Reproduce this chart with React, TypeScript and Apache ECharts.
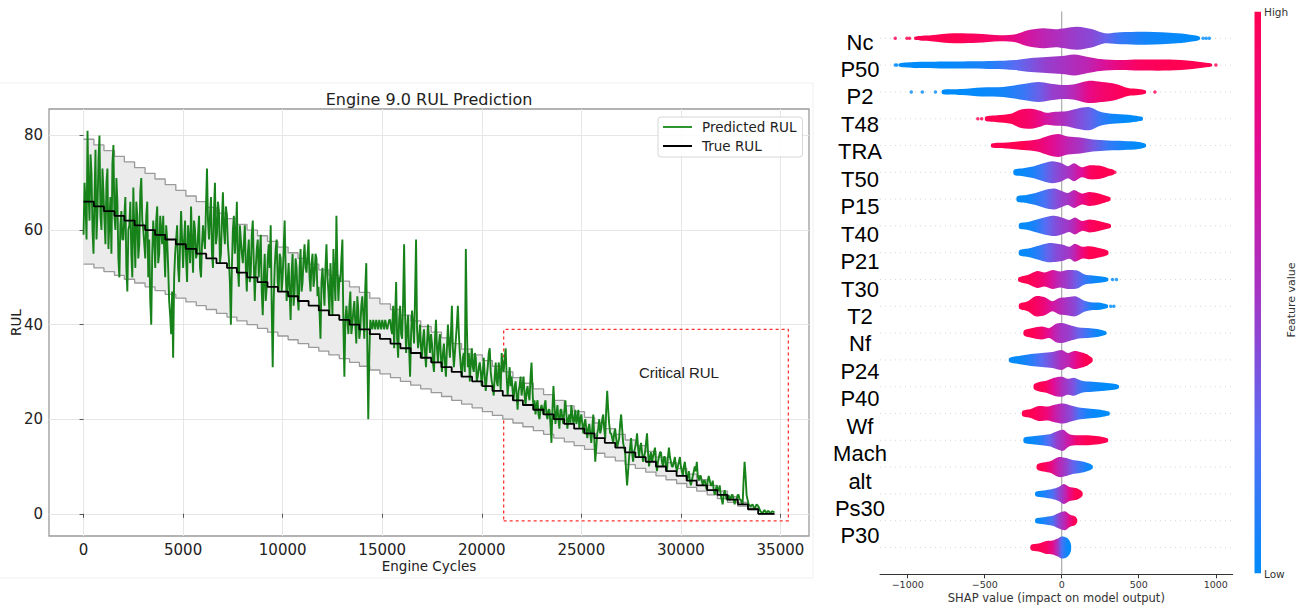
import React, { useEffect, useRef } from "react";
import * as echarts from "echarts";

// ---------------- Left panel: RUL prediction ----------------
const X_TICKS = [0, 5000, 10000, 15000, 20000, 25000, 30000, 35000];
const Y_TICKS = [0, 20, 40, 60, 80];
const LAST_CYCLE = 34700;
const BAND_FRACTION = 0.2;
const PRED_SAMPLE_STEP = 100;

const STEP_STARTS = [
  0, 520, 1025, 1555, 2050, 2565, 3090, 3590, 4100, 4635, 5140, 5660, 6160, 6675, 7205, 7700, 8210,
  8735, 9240, 9760, 10275, 10775, 11305, 11815, 12320, 12845, 13360, 13855, 14375, 14885, 15415,
  15915, 16430, 16935, 17460, 17980, 18490, 18985, 19515, 20030, 20535, 21055, 21565, 22065, 22590,
  23105, 23615, 24145, 24640, 25160, 25665, 26180, 26705, 27205, 27715, 28235, 28750, 29255, 29785,
  30295, 30795, 31320, 31835, 32340, 32860, 33370, 33885,
];
const TRUE_RUL_LEVELS = [
  66, 65, 64, 63, 62, 61, 60, 59, 58, 57, 56, 55, 54, 53, 52, 51, 50, 49, 48, 47, 46, 45, 44, 43, 42,
  41, 40, 39, 38, 37, 36, 35, 34, 33, 32, 31, 30, 29, 28, 27, 26, 25, 24, 23, 22, 21, 20, 19, 18, 17,
  16, 15, 14, 13, 12, 11, 10, 9, 8, 7, 6, 5, 4, 3, 2, 1, 0,
];

// predicted RUL sampled at cycles 0, 100, 200, ...
const PREDICTED_RUL = [
  59, 66, 81, 62, 72, 55, 77, 64, 80, 60,
  68, 57, 73, 62, 55, 78, 60, 66, 50, 64,
  58, 67, 47, 61, 55, 69, 52, 63, 57, 71,
  60, 54, 66, 58, 40, 62, 52, 65, 55, 60,
  63, 50, 58, 45, 38, 33, 55, 61, 49, 64,
  52, 62, 49, 58, 65, 51, 60, 55, 63, 50,
  61, 56, 73, 58, 67, 52, 70, 59, 64, 55,
  68, 57, 63, 54, 40, 60, 55, 66, 48, 58,
  53, 61, 47, 58, 51, 62, 45, 56, 50, 59,
  42, 55, 48, 57, 61, 31, 52, 58, 47, 54,
  50, 62, 45, 53, 41, 55, 47, 52, 43, 56,
  49, 57, 51, 58, 47, 55, 50, 54, 48, 37,
  52, 44, 57, 47, 53, 42, 50, 63, 45, 49,
  58, 29, 44, 38, 47, 40, 45, 36, 43, 39,
  46, 37, 53, 20, 41, 39, 40, 41, 39, 40,
  41, 39, 40, 40, 41, 38, 35, 49, 33, 44,
  37, 57, 34, 42, 29, 43, 36, 58, 35, 40,
  33, 39, 31, 40, 34, 36, 30, 41, 32, 38,
  30, 36, 29, 40, 33, 44, 31, 37, 44, 34,
  29, 34, 56, 31, 28, 35, 30, 33, 29, 32,
  27, 33, 26, 31, 35, 28, 25, 32, 27, 30,
  34, 30, 35, 25, 31, 29, 24, 28, 22, 27,
  25, 29, 23, 27, 24, 32, 22, 21, 24, 20,
  23, 21, 24, 20, 22, 15, 27, 19, 23, 18,
  22, 19, 24, 18, 21, 23, 19, 22, 20, 18,
  21, 17, 20, 16, 19, 15, 21, 11, 17, 20,
  18, 21, 16, 26, 19, 17, 15, 18, 14, 16,
  21, 15, 13, 6, 12, 16, 11, 14, 17, 12,
  15, 11, 13, 17, 10, 13, 12, 14, 9, 12,
  13, 10, 12, 9, 14, 11, 10, 12, 9, 11,
  10, 8, 11, 7, 9, 6, 8, 10, 11, 7,
  8, 6, 7, 5, 8, 6, 7, 4, 6, 5,
  4, 2, 5, 3, 4, 3, 4, 2, 3, 4,
  3, 2, 11, 4, 2, 1.5, 2, 1, 2, 1.5,
  0.5, 0, 0.8, 0.2, 0.6, 0.1, 0.5, 0.3,
];
// predicted RUL sampled at cycles 50, 150, 250, ...
const PREDICTED_RUL_MID = [
  70, 58, 68, 76, 60, 67, 58, 75, 63, 73,
  62, 70, 56, 67, 74, 63, 71, 54, 61, 58,
  63, 52, 60, 66, 50, 60, 66, 54, 68, 62,
  57, 63, 50, 45, 55, 58, 62, 53, 63, 57,
  56, 61, 52, 42, 47, 50, 58, 52, 57, 58,
  58, 54, 61, 53, 57, 62, 54, 59, 52, 57,
  58, 65, 62, 63, 55, 64, 57, 66, 53, 62,
  60, 65, 57, 49, 52, 63, 59, 52, 61, 55,
  57, 52, 55, 49, 59, 53, 52, 58, 55, 47,
  50, 45, 54, 52, 44, 45, 56, 49, 55, 47,
  56, 52, 49, 47, 51, 44, 54, 46, 52, 47,
  54, 52, 55, 50, 53, 48, 55, 46, 43, 49,
  48, 52, 50, 42, 48, 56, 45, 52, 50, 54,
  40, 41, 41, 44, 38, 43, 40, 46, 37, 44,
  42, 48, 36, 33, 40, 41, 39, 40, 41, 39,
  40, 41, 39, 41, 39, 44, 42, 37, 41, 38,
  45, 42, 39, 35, 38, 40, 46, 39, 37, 35,
  37, 34, 36, 37, 38, 32, 37, 35, 36, 33,
  34, 32, 35, 36, 38, 35, 34, 40, 38, 31,
  33, 30, 40, 34, 32, 31, 34, 28, 31, 30,
  30, 29, 29, 34, 30, 27, 29, 28, 32, 26,
  31, 33, 29, 28, 27, 26, 27, 25, 26, 29,
  27, 25, 26, 25, 29, 26, 24, 23, 21, 22,
  22, 23, 21, 22, 19, 22, 23, 21, 20, 22,
  20, 22, 21, 20, 19, 21, 20, 19, 22, 20,
  19, 19, 18, 18, 17, 18, 16, 14, 18, 17,
  20, 18, 22, 22, 17, 16, 17, 16, 15, 19,
  18, 14, 9, 9, 14, 13, 13, 15, 14, 14,
  13, 12, 15, 13, 12, 11, 13, 11, 11, 13,
  11, 12, 10, 12, 12, 10, 11, 10, 10, 12,
  9, 10, 9, 8, 7, 7, 9, 9, 8, 8,
  7, 7, 6, 7, 7, 6, 5, 5, 5, 6,
  3, 4, 4, 3, 3, 4, 3, 3, 4, 3,
  2.5, 7, 8, 3, 1.8, 1.8, 1.5, 1.5, 1.8, 1,
  0.3, 0.5, 0.4, 0.5, 0.3, 0.4, 0.4,
];

const CRITICAL_X = [21100, 35400];
const CRITICAL_Y = [-1.5, 39];
const CRITICAL_LABEL_AT = [29900, 29.9];

// ---------------- Right panel: SHAP summary ----------------
const FEATURE_LABELS = [
  "Nc", "P50", "P2", "T48", "TRA", "T50", "P15", "T40", "P21", "T30",
  "T2", "Nf", "P24", "P40", "Wf", "Mach", "alt", "Ps30", "P30",
];
const SHAP_TICKS = [-1000, -500, 0, 500, 1000];

// each row: [SHAP value, local density, feature value (0 low .. 1 high)]
const SWARM_01 = [[-955,1.5,1],[-850,3,1],[-700,5,1],[-550,4.5,0.95],[-400,3,0.9],[-300,4,0.8],[-220,8,0.7],[-120,10,0.6],[-40,9,0.55],[20,10,0.5],[100,11.5,0.45],[200,9,0.4],[280,5,0.3],[380,6,0.15],[550,6.5,0.05],[750,5,0.02],[860,3,0],[895,1.5,0]];
const SWARM_02 = [[-1055,1.5,0],[-950,3,0],[-700,3.5,0.02],[-450,4,0.1],[-300,5,0.25],[-200,7,0.35],[-100,8,0.45],[0,9,0.5],[80,10.5,0.55],[170,8,0.6],[250,6,0.7],[380,5,0.85],[500,5.5,0.95],[700,5.5,1],[850,4,1],[950,2,1],[975,1.2,1]];
const SWARM_03 = [[-775,2,0],[-650,3,0],[-520,4.5,0.02],[-380,5,0.05],[-250,8,0.15],[-150,10,0.3],[-60,8,0.45],[20,7,0.5],[90,8,0.6],[170,11,0.8],[260,10,0.9],[350,8,0.95],[430,4,1],[500,3,1],[545,1.5,1]];
const SWARM_04 = [[-495,2,1],[-420,3.5,1],[-330,5,1],[-270,9,0.95],[-200,10,0.9],[-140,8,0.8],[-100,6,0.7],[-40,7,0.6],[30,7.5,0.5],[100,10,0.4],[180,11.5,0.3],[250,7,0.15],[330,5,0.05],[430,4,0],[500,2.5,0],[525,1.5,0]];
const SWARM_05 = [[-455,2,1],[-350,3,1],[-250,4.5,1],[-160,6,0.9],[-80,10,0.8],[-20,11.5,0.7],[40,9,0.6],[120,8,0.5],[200,6,0.35],[300,5,0.15],[400,4.5,0.05],[500,3.5,0],[545,1.5,0]];
const SWARM_06 = [[-310,2.5,0],[-250,4,0.02],[-180,6,0.08],[-120,9,0.2],[-60,11,0.35],[0,9,0.45],[40,6,0.5],[80,9,0.6],[130,5,0.75],[180,7,0.95],[250,6.5,1],[300,4,1],[340,2,1]];
const SWARM_07 = [[-290,2.5,0],[-230,4,0.02],[-170,6,0.1],[-110,9,0.2],[-50,10.5,0.35],[0,8,0.45],[40,6,0.5],[80,9,0.6],[130,5.5,0.8],[180,7,0.95],[240,5.5,1],[290,3,1],[315,1.5,1]];
const SWARM_08 = [[-275,2.5,0],[-220,4,0.02],[-160,6.5,0.1],[-100,9,0.25],[-40,10,0.38],[10,8,0.45],[50,6,0.5],[85,8.5,0.6],[130,5,0.8],[180,6.5,0.95],[240,5,1],[290,3,1],[318,1.5,1]];
const SWARM_09 = [[-275,2.5,0],[-210,4.5,0.03],[-150,7,0.12],[-90,9.5,0.28],[-30,9,0.4],[10,8,0.45],[50,6,0.5],[85,9,0.62],[130,6,0.85],[180,6.5,1],[250,4.5,1],[300,2,1]];
const SWARM_10 = [[-280,2,1],[-220,4.5,1],[-160,8.5,0.95],[-110,7,0.85],[-60,9.5,0.7],[-10,8,0.55],[40,9.5,0.45],[100,9,0.3],[150,5,0.15],[200,4,0.05],[260,3,0],[300,1.5,0]];
const SWARM_11 = [[-275,2.5,1],[-220,5,1],[-170,10,0.95],[-110,9,0.85],[-60,5,0.7],[-20,8,0.6],[30,9,0.5],[90,10,0.4],[140,6,0.25],[190,4,0.08],[250,3.5,0],[290,2,0],[300,1.2,0]];
const SWARM_12 = [[-245,2.5,1],[-190,5,1],[-130,6.5,0.9],[-80,5,0.75],[-40,9,0.6],[0,10,0.5],[50,8,0.45],[110,5.5,0.3],[170,5,0.15],[230,4,0.03],[270,2.5,0],[290,1.2,0]];
const SWARM_13 = [[-340,2,0],[-280,4,0.02],[-200,6,0.1],[-130,7,0.25],[-60,8,0.4],[0,10,0.55],[40,7,0.6],[80,9,0.75],[120,8,0.9],[160,6,1],[190,3,1],[200,1.5,1]];
const SWARM_14 = [[-180,2.5,1],[-140,5,1],[-100,6,0.95],[-50,9,0.75],[0,10,0.55],[40,8,0.45],[80,9,0.35],[130,6,0.15],[200,5,0.05],[280,4,0],[340,3,0],[370,1.5,0]];
const SWARM_15 = [[-255,2.5,1],[-200,4.5,1],[-150,7.5,0.95],[-90,7,0.85],[-40,9,0.65],[10,10,0.5],[60,8,0.4],[110,6,0.2],[170,5,0.05],[240,4,0],[290,2.5,0],[310,1.5,0]];
const SWARM_16 = [[-245,2.5,0],[-190,4,0.02],[-130,5,0.1],[-80,6,0.25],[-30,9,0.45],[10,10.5,0.55],[50,6,0.7],[100,5,0.9],[170,5,1],[240,4,1],[285,2.5,1],[300,1.5,1]];
const SWARM_17 = [[-160,2.5,1],[-120,4.5,1],[-70,6,0.85],[-20,10,0.6],[30,9,0.45],[70,7,0.3],[120,6,0.15],[170,4,0.03],[200,1.5,0]];
const SWARM_18 = [[-170,2,0],[-120,3.5,0.05],[-60,5,0.2],[-20,7,0.4],[15,10,0.55],[50,7,0.8],[90,6,1],[120,4,1],[135,1.5,1]];
const SWARM_19 = [[-170,2,0],[-120,3.5,0.05],[-60,5,0.2],[-15,8,0.45],[20,9.5,0.6],[55,6,0.85],[85,4.5,1],[100,1.5,1]];
const SWARM_20 = [[-200,2.5,1],[-150,4,1],[-100,6.5,0.95],[-60,7,0.8],[-25,9,0.5],[0,11,0.2],[30,10,0.05],[50,7,0],[60,3,0]];

// isolated outlying points: [SHAP value, row, feature value]
const SWARM_DOTS = [
  [-1081, 0, 1], [-1005, 0, 1], [-988, 0, 1], [918, 0, 0], [938, 0, 0], [958, 0, 0],
  [-1081, 1, 0], [-1070, 1, 0], [1001, 1, 1],
  [-977, 2, 0], [-905, 2, 0], [-820, 2, 0], [605, 2, 1],
  [-545, 3, 1], [-520, 3, 1],
  [345, 5, 1],
  [330, 9, 0], [355, 9, 0],
  [318, 10, 0], [338, 10, 0],
];

const COLOR_STOP_POS = [0, 0.25, 0.5, 0.75, 1];
const COLOR_STOP_RGB = [
  [0, 139, 251],
  [90, 108, 243],
  [165, 52, 196],
  [224, 12, 150],
  [255, 0, 82],
];

const SWARM_ROWS = [
  SWARM_01, SWARM_02, SWARM_03, SWARM_04, SWARM_05, SWARM_06, SWARM_07, SWARM_08, SWARM_09, SWARM_10,
  SWARM_11, SWARM_12, SWARM_13, SWARM_14, SWARM_15, SWARM_16, SWARM_17, SWARM_18, SWARM_19, SWARM_20,
];

function fvColor(t: number): string {
  const v = Math.max(0, Math.min(1, t));
  let i = 0;
  while (i < COLOR_STOP_POS.length - 2 && v > COLOR_STOP_POS[i + 1]) i++;
  const a = COLOR_STOP_POS[i];
  const b = COLOR_STOP_POS[i + 1];
  const f = (v - a) / (b - a);
  const c0 = COLOR_STOP_RGB[i];
  const c1 = COLOR_STOP_RGB[i + 1];
  const r = Math.round(c0[0] + (c1[0] - c0[0]) * f);
  const g = Math.round(c0[1] + (c1[1] - c0[1]) * f);
  const bb = Math.round(c0[2] + (c1[2] - c0[2]) * f);
  return `rgb(${r},${g},${bb})`;
}

const FONT = "DejaVu Sans";
const ARIAL = "Liberation Sans";
const DENSITY_TO_ROW = 1 / 26.8;

function buildOption(): any {
  const trueData = STEP_STARTS.map((x, i) => [x, TRUE_RUL_LEVELS[i]]).concat([[LAST_CYCLE, 0]]);
  const upperData = trueData.map(([x, v]) => [x, v * (1 + BAND_FRACTION)]);
  const lowerData = trueData.map(([x, v]) => [x, v * (1 - BAND_FRACTION)]);
  const predData: number[][] = [];
  PREDICTED_RUL.forEach((v, i) => {
    predData.push([i * PRED_SAMPLE_STEP, v]);
    if (i < PREDICTED_RUL_MID.length) predData.push([i * PRED_SAMPLE_STEP + PRED_SAMPLE_STEP / 2, PREDICTED_RUL_MID[i]]);
  });

  const colorbarStops = COLOR_STOP_POS.map((p) => ({ offset: 1 - p, color: fvColor(p) })).reverse();

  return {
    animation: false,
    backgroundColor: "#ffffff",
    textStyle: { fontFamily: FONT },
    grid: [
      { left: 49, top: 109, right: 493, bottom: 73, show: true, borderColor: "#9a9a9a", borderWidth: 1.3, containLabel: false, outerBoundsMode: "none" },
      { left: 880, top: 11.5, right: 69.3, bottom: 34.7, containLabel: false, outerBoundsMode: "none" },
      { left: 880, top: 28.3, width: 10, height: 521.4, containLabel: false, outerBoundsMode: "none" },
    ],
    legend: {
      data: [
        { name: "Predicted RUL", icon: "rect" },
        { name: "True RUL", icon: "rect" },
      ],
      orient: "vertical",
      left: 658,
      top: 117,
      itemWidth: 29,
      itemHeight: 2,
      itemGap: 5,
      padding: [3, 6, 4, 5],
      borderColor: "#d6d6d6",
      borderWidth: 1,
      borderRadius: 3,
      backgroundColor: "rgba(255,255,255,0.85)",
      selectedMode: false,
      textStyle: { fontFamily: FONT, fontSize: 13.5, color: "#222", padding: [0, 0, 0, 5] },
    },
    xAxis: [
      {
        type: "value",
        gridIndex: 0,
        min: -1735,
        max: 36435,
        axisLine: { show: false },
        axisTick: { show: true, length: 4, lineStyle: { color: "#555" }, customValues: X_TICKS },
        axisLabel: { customValues: X_TICKS, fontSize: 15, color: "#222", fontFamily: FONT, margin: 6, formatter: (v: number) => String(v) },
        splitLine: { show: true, lineStyle: { color: "#e6e6e6", width: 1 } },
        name: "Engine Cycles",
        nameLocation: "middle",
        nameGap: 23,
        nameMoveOverlap: false,
        nameTextStyle: { fontSize: 13.5, color: "#222", fontFamily: FONT },
      },
      {
        type: "value",
        gridIndex: 1,
        min: -1180,
        max: 1110,
        axisLine: { show: true, onZero: false, lineStyle: { color: "#333", width: 1 } },
        axisTick: { show: true, length: 4, lineStyle: { color: "#333" }, customValues: SHAP_TICKS },
        axisLabel: {
          customValues: SHAP_TICKS,
          fontSize: 9.5,
          color: "#333",
          fontFamily: FONT,
          margin: 5,
          formatter: (v: number) => (v < 0 ? "\u2212" + Math.abs(v) : String(v)),
        },
        splitLine: { show: false },
        name: "SHAP value (impact on model output)",
        nameLocation: "middle",
        nameGap: 18,
        nameMoveOverlap: false,
        nameTextStyle: { fontSize: 11.5, color: "#333", fontFamily: FONT },
      },
      { type: "value", gridIndex: 2, min: 0, max: 1, show: false },
    ],
    yAxis: [
      {
        type: "value",
        gridIndex: 0,
        min: -4.7,
        max: 85.6,
        axisLine: { show: false },
        axisTick: { show: true, length: 4, lineStyle: { color: "#555" }, customValues: Y_TICKS },
        axisLabel: { customValues: Y_TICKS, fontSize: 15, color: "#222", fontFamily: FONT, margin: 6 },
        splitLine: { show: true, lineStyle: { color: "#e6e6e6", width: 1 } },
        name: "RUL",
        nameLocation: "middle",
        nameGap: 26,
        nameMoveOverlap: false,
        nameTextStyle: { fontSize: 13.5, color: "#222", fontFamily: FONT },
      },
      { type: "value", gridIndex: 1, inverse: true, min: -1, max: 20, show: false },
      {
        type: "category",
        gridIndex: 2,
        inverse: true,
        data: FEATURE_LABELS,
        axisLine: { show: false },
        axisTick: { show: false },
        splitLine: { show: false },
        axisLabel: { interval: 0, fontSize: 22, fontFamily: ARIAL, color: "#000", align: "center", margin: 20 },
      },
    ],
    series: [
      {
        name: "band-fill",
        type: "custom",
        xAxisIndex: 0,
        yAxisIndex: 0,
        silent: true,
        z: 1,
        data: [[0, 0]],
        renderItem: (params: any, api: any) => {
          const up: number[][] = [];
          const lo: number[][] = [];
          for (let i = 0; i < upperData.length; i++) {
            const [x, u] = upperData[i];
            const l = lowerData[i][1];
            const nx = i + 1 < upperData.length ? upperData[i + 1][0] : x;
            up.push(api.coord([x, u]), api.coord([nx, u]));
            lo.push(api.coord([x, l]), api.coord([nx, l]));
          }
          return {
            type: "polygon",
            shape: { points: up.concat(lo.reverse()) },
            style: { fill: "#ebebeb", stroke: "none" },
          };
        },
      },
      {
        name: "band-upper",
        type: "line",
        xAxisIndex: 0,
        yAxisIndex: 0,
        data: upperData,
        step: "end",
        symbol: "none",
        silent: true,
        lineStyle: { color: "#9a9a9a", width: 1.3 },
        z: 2,
      },
      {
        name: "band-lower",
        type: "line",
        xAxisIndex: 0,
        yAxisIndex: 0,
        data: lowerData,
        step: "end",
        symbol: "none",
        silent: true,
        lineStyle: { color: "#9a9a9a", width: 1.3 },
        z: 2,
      },
      {
        name: "Predicted RUL",
        type: "line",
        xAxisIndex: 0,
        yAxisIndex: 0,
        data: predData,
        symbol: "none",
        silent: true,
        color: "#2f962f",
        lineStyle: { color: "#17821a", width: 1.9 },
        z: 4,
      },
      {
        name: "True RUL",
        type: "line",
        xAxisIndex: 0,
        yAxisIndex: 0,
        data: trueData,
        step: "end",
        symbol: "none",
        silent: true,
        color: "#000000",
        lineStyle: { color: "#000000", width: 1.8 },
        z: 5,
        markArea: {
          silent: true,
          itemStyle: { color: "rgba(0,0,0,0)", borderColor: "#ff3030", borderWidth: 1.3, borderType: [3, 3] },
          label: { show: false },
          data: [[{ coord: [CRITICAL_X[0], CRITICAL_Y[0]] }, { coord: [CRITICAL_X[1], CRITICAL_Y[1]] }]],
        },
        markPoint: {
          silent: true,
          symbol: "circle",
          symbolSize: 0,
          label: { show: true, position: "inside", formatter: "Critical RUL", fontSize: 15, fontFamily: ARIAL, color: "#222" },
          data: [{ coord: CRITICAL_LABEL_AT }],
        },
      },
      {
        name: "zero-line",
        type: "line",
        xAxisIndex: 1,
        yAxisIndex: 1,
        data: [[0, -1], [0, 20]],
        symbol: "none",
        silent: true,
        lineStyle: { color: "#999999", width: 1 },
        z: 1,
      },
      {
        name: "swarm",
        type: "custom",
        xAxisIndex: 1,
        yAxisIndex: 1,
        silent: true,
        clip: false,
        z: 2,
        data: SWARM_ROWS.map((_, r) => [0, r]),
        renderItem: (params: any, api: any) => {
          const row = api.value(1) as number;
          const shape = SWARM_ROWS[row];
          const cs = params.coordSys;
          const rowPx = Math.abs(api.size([0, 1])[1]);
          const k = rowPx * DENSITY_TO_ROW;
          const yc = api.coord([0, row])[1];
          const top: number[][] = [];
          const bot: number[][] = [];
          const xs: number[] = [];
          for (const [sx, d] of shape) {
            const px = api.coord([sx, row])[0];
            xs.push(px);
            top.push([px, yc - d * k]);
            bot.push([px, yc + d * k]);
          }
          const x0 = xs[0];
          const x1 = xs[xs.length - 1];
          const stops = shape.map((p, i) => ({ offset: (xs[i] - x0) / (x1 - x0), color: fvColor(p[2]) }));
          return {
            type: "group",
            children: [
              {
                type: "line",
                shape: { x1: cs.x, y1: yc, x2: cs.x + cs.width, y2: yc },
                style: { stroke: "#cccccc", lineWidth: 0.8, lineDash: [1, 4] },
              },
              {
                type: "polygon",
                shape: { points: top.concat(bot.reverse()), smooth: 0.3 },
                style: { fill: new (echarts as any).graphic.LinearGradient(0, 0, 1, 0, stops) },
              },
            ],
          };
        },
      },
      {
        name: "swarm-dots",
        type: "scatter",
        xAxisIndex: 1,
        yAxisIndex: 1,
        silent: true,
        symbolSize: 3.5,
        z: 3,
        data: SWARM_DOTS,
        itemStyle: { color: (p: any) => fvColor(p.value[2]) },
      },
    ],
    graphic: [
      {
        type: "rect",
        silent: true,
        z: -10,
        shape: { x: -2, y: 83, width: 815, height: 495 },
        style: { fill: "none", stroke: "#f0f0f0", lineWidth: 1 },
      },
      {
        type: "text",
        x: 429,
        y: 99,
        silent: true,
        style: { text: "Engine 9.0 RUL Prediction", fontSize: 16, fontFamily: FONT, fill: "#222", align: "center", verticalAlign: "middle" },
      },
      {
        type: "rect",
        silent: true,
        shape: { x: 1254.5, y: 11.7, width: 6.5, height: 561.6 },
        style: { fill: new (echarts as any).graphic.LinearGradient(0, 0, 0, 1, colorbarStops) },
      },
      {
        type: "text",
        x: 1264,
        y: 12,
        silent: true,
        style: { text: "High", fontSize: 10.5, fontFamily: FONT, fill: "#333", align: "left", verticalAlign: "middle" },
      },
      {
        type: "text",
        x: 1264,
        y: 574,
        silent: true,
        style: { text: "Low", fontSize: 10.5, fontFamily: FONT, fill: "#333", align: "left", verticalAlign: "middle" },
      },
      {
        type: "text",
        x: 1291,
        y: 300,
        rotation: Math.PI / 2,
        silent: true,
        style: { text: "Feature value", fontSize: 11, fontFamily: FONT, fill: "#333", align: "center", verticalAlign: "middle" },
      },
    ],
  };
}

export default function App() {
  const ref = useRef<HTMLDivElement>(null);
  useEffect(() => {
    if (!ref.current) return;
    const chart = echarts.init(ref.current, null, { renderer: "svg" });
    chart.setOption(buildOption());
    return () => chart.dispose();
  }, []);
  return (
    <div
      ref={ref}
      style={{ position: "fixed", left: 0, top: 0, width: 1302, height: 609, background: "#ffffff" }}
    />
  );
}
